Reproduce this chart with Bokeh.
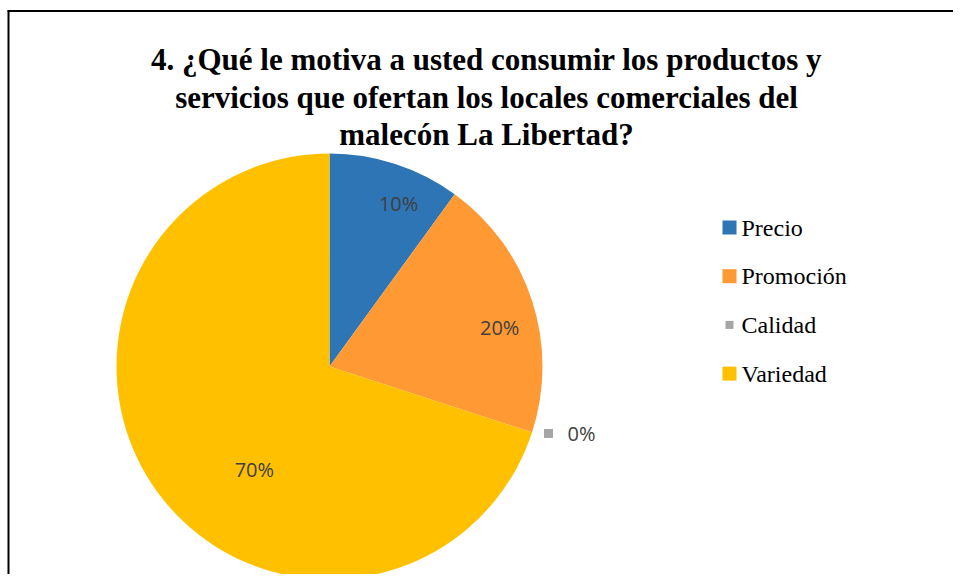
import math
from bokeh.plotting import figure
from bokeh.models import Range1d, ColumnDataSource
from bokeh.core.properties import value
from bokeh.embed import file_html
from bokeh.resources import INLINE

# ---------------- data ----------------
title_lines = [
    "4. ¿Qué le motiva a usted consumir los productos y",
    "servicios que ofertan los locales comerciales del",
    "malecón La Libertad?",
]
categories = ["Precio", "Promoción", "Calidad", "Variedad"]
percentages = [10, 20, 0, 70]
colors = ["#2E75B6", "#FF9933", "#A5A5A5", "#FFC000"]

# ---------------- layout (screen pixels) ----------------
W, H = 953, 574
PAGE_H = 582


def dy(screen_y):
    return PAGE_H - screen_y


CX, CY, R = 329, 366, 213

# label placement style: (angle adjustment in degrees, radius fraction)
label_style = {
    "Precio": (-5, 0.83),
    "Promoción": (-5, 0.82),
    "Calidad": (1, 1.075),
    "Variedad": (18, 0.60),
}

p = figure(width=W, height=H, output_backend="svg", toolbar_location=None,
           x_range=Range1d(0, W), y_range=Range1d(dy(H), dy(0)),
           min_border=0)
p.axis.visible = False
p.grid.visible = False
p.outline_line_color = None
p.background_fill_color = "white"
p.border_fill_color = "white"

# border of the chart area (top and left edges visible)
p.segment(x0=[7, 8], y0=[dy(10.5), dy(10)], x1=[W, 8], y1=[dy(10.5), dy(H)],
          line_color="black", line_width=2)

# ---------------- pie ----------------
starts, ends, wcols = [], [], []
lab_x, lab_y, lab_t = [], [], []
out_x, out_y, out_t, out_c = [], [], [], []
cum = 0
for cat, pct, col in zip(categories, percentages, colors):
    a0 = 90 - cum * 3.6
    a1 = a0 - pct * 3.6
    cum += pct
    if pct > 0:
        starts.append(math.radians(a0))
        ends.append(math.radians(a1))
        wcols.append(col)
    adj, rf = label_style[cat]
    mid = math.radians((a0 + a1) / 2 + adj)
    lx = CX + rf * R * math.cos(mid)
    ly = dy(CY) + rf * R * math.sin(mid)
    if rf < 1:
        lab_x.append(lx); lab_y.append(ly); lab_t.append(f"{pct}%")
    else:
        out_x.append(lx); out_y.append(ly); out_t.append(f"{pct}%"); out_c.append(col)

wsrc = ColumnDataSource(dict(s=starts, e=ends, c=wcols))
p.wedge(x=CX, y=dy(CY), radius=R, start_angle="s", end_angle="e",
        direction="clock", fill_color="c", line_color=None, source=wsrc)

p.text(x=lab_x, y=lab_y, text=lab_t, text_align="center", text_baseline="middle",
       text_font=value("Open Sans"), text_font_size="20px", text_color="#404040")

# outside label with key marker
p.scatter(x=out_x, y=out_y, marker="square", size=9, fill_color=out_c, line_color=None)
p.text(x=[x + 19 for x in out_x], y=out_y, text=out_t, text_align="left",
       text_baseline="middle", text_font=value("Open Sans"), text_font_size="20px",
       text_color="#404040")

# ---------------- title ----------------
tx = [486] * len(title_lines)
ty = [dy(59 + 37.5 * i) for i in range(len(title_lines))]
p.text(x=tx, y=ty, text=title_lines, text_align="center", text_baseline="alphabetic",
       text_font=value("Liberation Serif"), text_font_style="bold",
       text_font_size="31px", text_color="black")

# ---------------- legend ----------------
leg_y = [dy(227 + 48.7 * i) for i in range(len(categories))]
sizes = [14 if pct > 0 else 8 for pct in percentages]
p.scatter(x=[729] * len(categories), y=leg_y, marker="square", size=sizes,
          fill_color=colors, line_color=None)
p.text(x=[741] * len(categories), y=leg_y, text=categories, text_align="left",
       text_baseline="middle", text_font=value("Liberation Serif"),
       text_font_size="24px", text_color="black")

open("out.html", "w").write(file_html(p, INLINE))
